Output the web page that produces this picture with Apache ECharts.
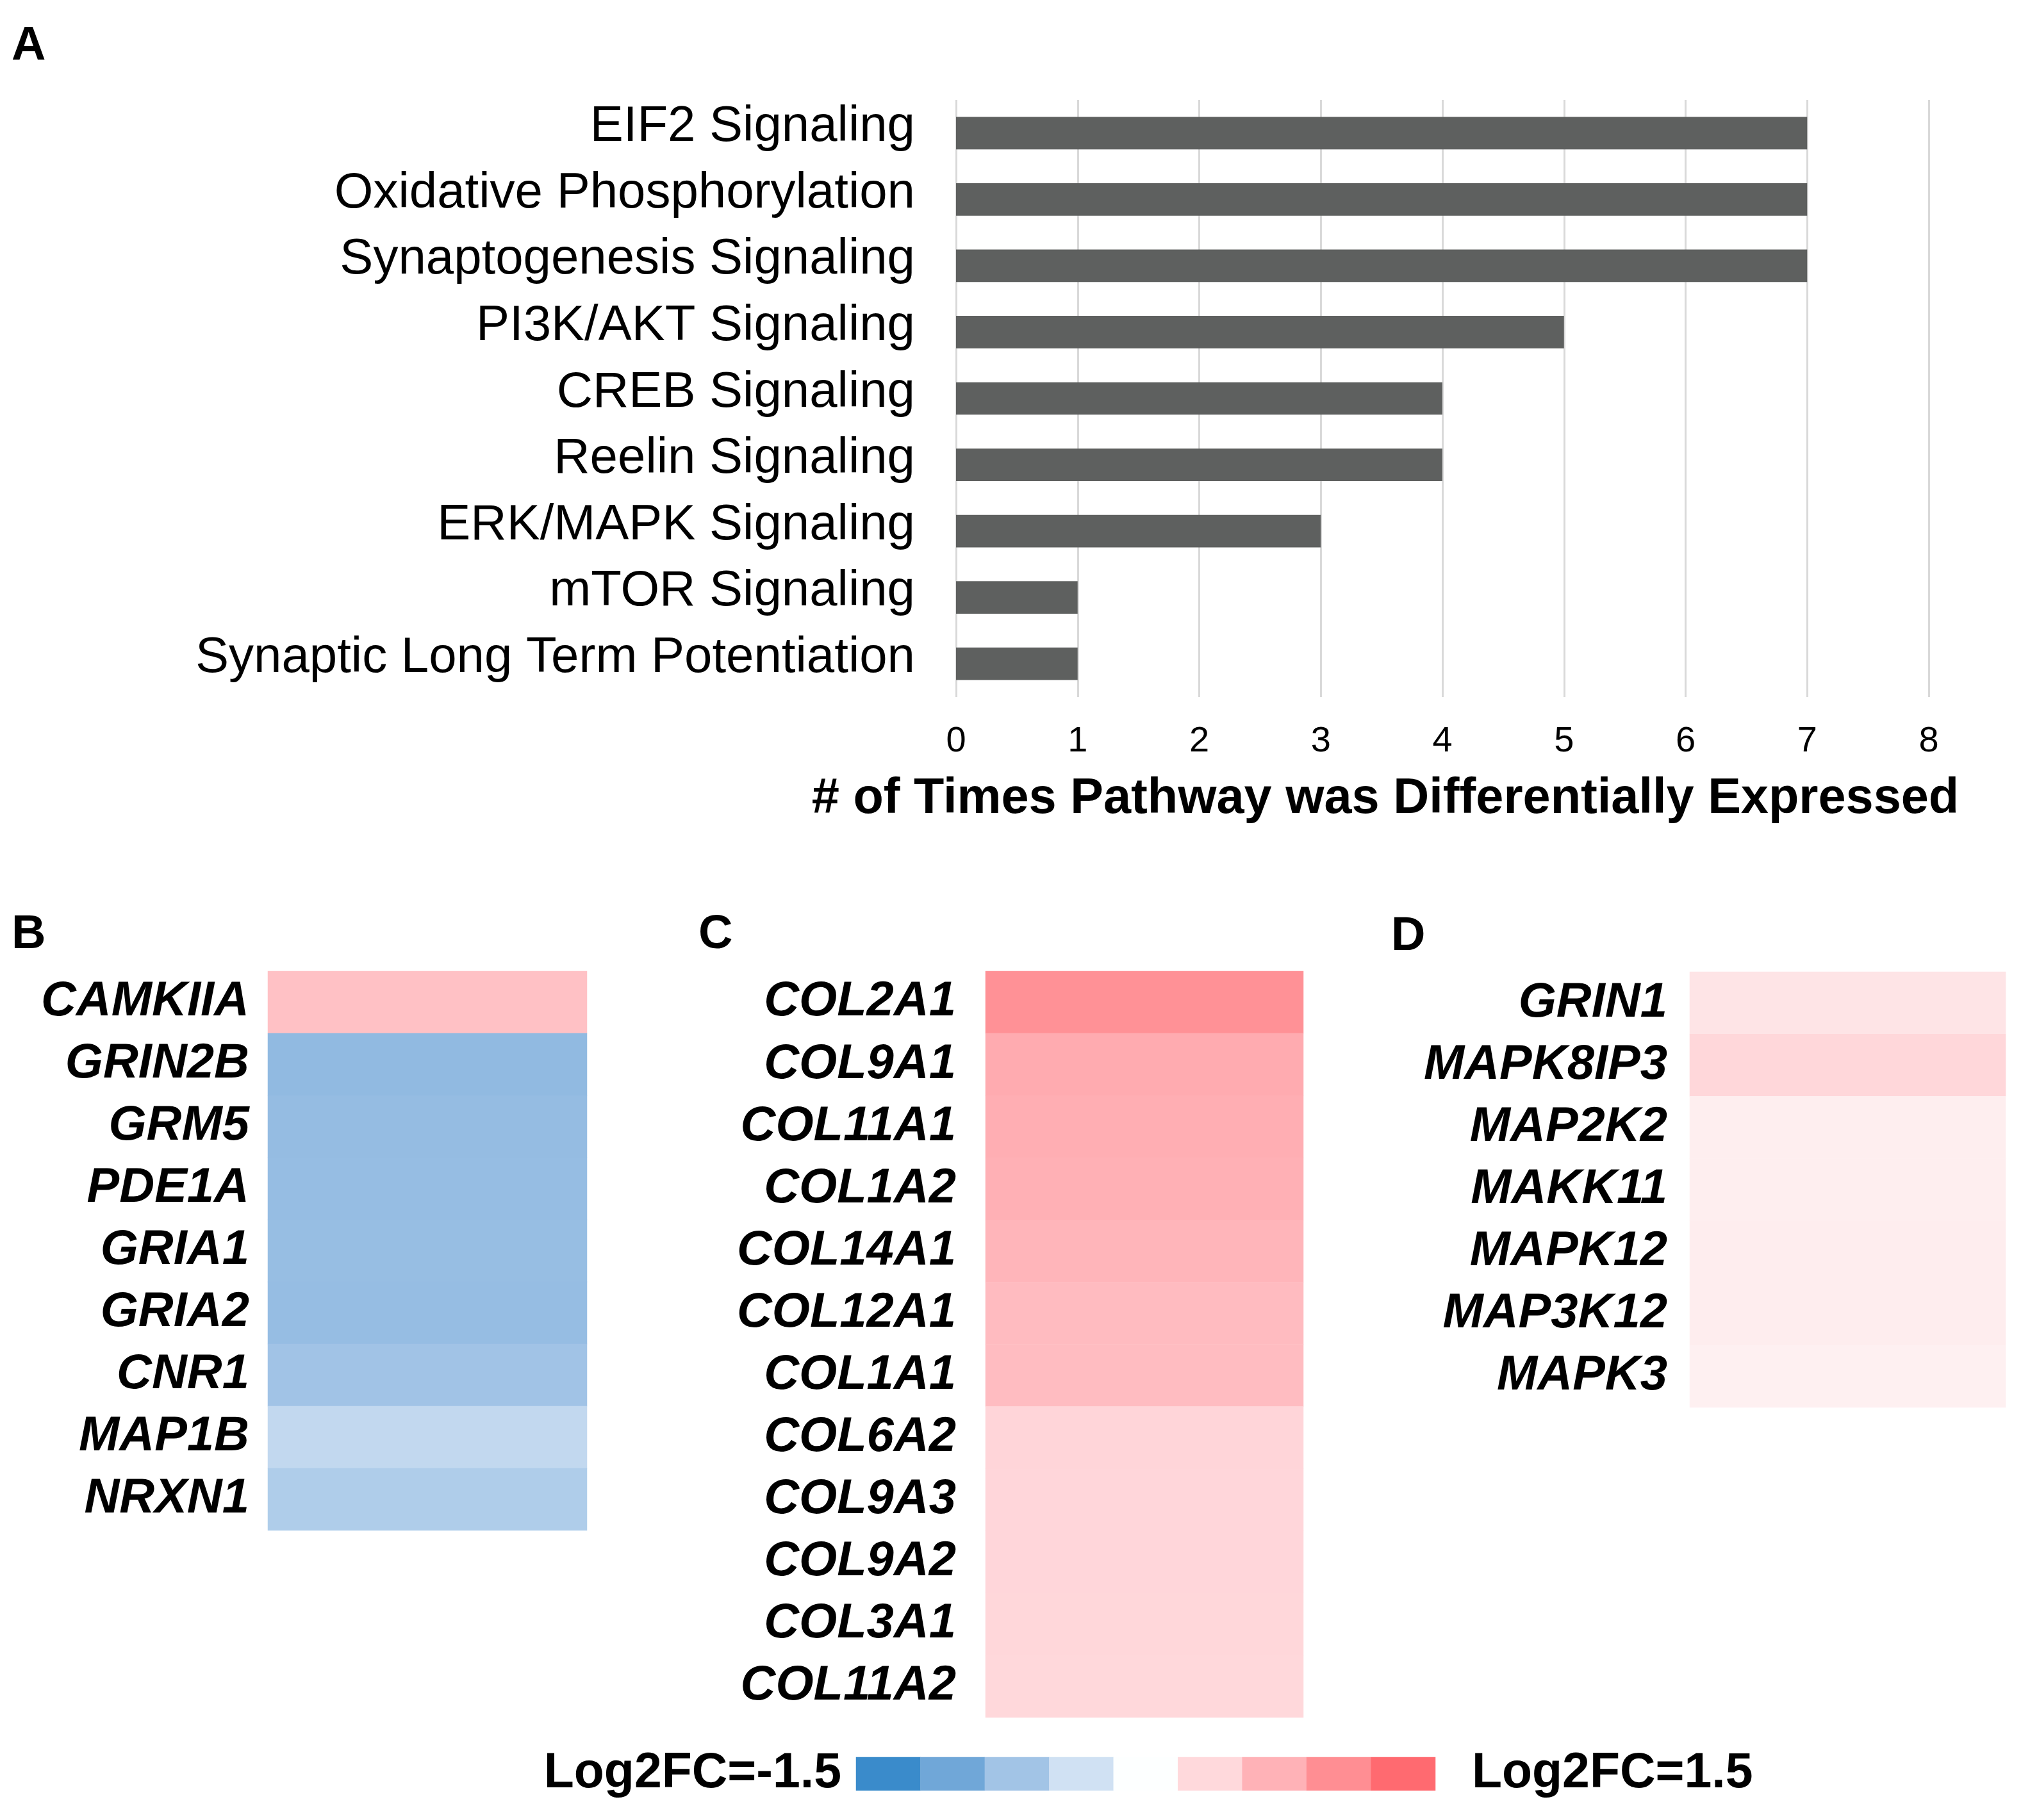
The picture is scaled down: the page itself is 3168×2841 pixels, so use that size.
<!DOCTYPE html>
<html>
<head>
<meta charset="utf-8">
<script src="https://cdn.jsdelivr.net/npm/echarts@6/dist/echarts.min.js"></script>
<style>
html,body{margin:0;padding:0;background:#fff;}
#chart{width:3168px;height:2841px;}
</style>
</head>
<body>
<div id="chart"></div>
<script>
// ---- Panel A data ----
var pathways = ['EIF2 Signaling','Oxidative Phosphorylation','Synaptogenesis Signaling','PI3K/AKT Signaling','CREB Signaling','Reelin Signaling','ERK/MAPK Signaling','mTOR Signaling','Synaptic Long Term Potentiation'];
var pathwayCounts = [7,7,7,5,4,4,3,1,1];

// ---- Panel B data ----
var genesB = ['CAMKIIA','GRIN2B','GRM5','PDE1A','GRIA1','GRIA2','CNR1','MAP1B','NRXN1'];
var log2fcB = [0.61,-0.88,-0.85,-0.84,-0.83,-0.84,-0.76,-0.49,-0.64];

// ---- Panel C data ----
var genesC = ['COL2A1','COL9A1','COL11A1','COL1A2','COL14A1','COL12A1','COL1A1','COL6A2','COL9A3','COL9A2','COL3A1','COL11A2'];
var log2fcC = [1.09,0.82,0.79,0.77,0.72,0.66,0.65,0.41,0.40,0.40,0.395,0.385];

// ---- Panel D data ----
var genesD = ['GRIN1','MAPK8IP3','MAP2K2','MAKK11','MAPK12','MAP3K12','MAPK3'];
var log2fcD = [0.27,0.395,0.17,0.17,0.18,0.18,0.15];

// ---- Colour scale legend ----
var legendSteps = [-1.5,-1.125,-0.75,-0.375,0,0.375,0.75,1.125,1.5];
var scaleColors = ['#3A8BCB','#70A7D8','#A2C4E6','#D0E1F3','#FDFFFF','#FFD9DC','#FFB2B7','#FF8E93','#FF6A70'];
var legendLabels = ['Log2FC=-1.5','Log2FC=1.5'];

var FONT = '"Liberation Sans", Arial, Helvetica, sans-serif';

function cells(vals){ return vals.map(function(v,i){ return [0,i,v]; }); }

var geneLabel = function(margin){
  return {show:true, interval:0, margin:margin, fontFamily:FONT, fontSize:76, fontWeight:'bold', fontStyle:'italic', color:'#000'};
};
var hiddenX = function(gi){ return {type:'category', gridIndex:gi, data:[''], show:false}; };
var geneY = function(gi, genes, margin){
  return {type:'category', gridIndex:gi, data:genes, inverse:true,
    axisLine:{show:false}, axisTick:{show:false}, splitLine:{show:false},
    axisLabel:geneLabel(margin)};
};

var chart = echarts.init(document.getElementById('chart'), null, {renderer:'canvas'});
chart.setOption({
  backgroundColor:'#ffffff',
  animation:false,
  grid:[
    {left:1492, top:156, width:1518, height:932},
    {left:418, top:1516, width:498, height:873},
    {left:1538, top:1516, width:496, height:1165},
    {left:2637, top:1517, width:493, height:680},
    {left:1336, top:2743, width:904, height:52}
  ],
  xAxis:[
    {type:'value', gridIndex:0, min:0, max:8, interval:1,
      axisLine:{show:false}, axisTick:{show:false},
      splitLine:{show:true, lineStyle:{color:'#D9D9D9', width:3}},
      axisLabel:{margin:42, fontFamily:FONT, fontSize:56, color:'#000'}},
    hiddenX(1), hiddenX(2), hiddenX(3),
    {type:'category', gridIndex:4, data:legendSteps.map(String), show:false}
  ],
  yAxis:[
    {type:'category', gridIndex:0, data:pathways, inverse:true,
      axisLine:{show:false}, axisTick:{show:false},
      axisLabel:{interval:0, margin:64, fontFamily:FONT, fontSize:78, color:'#000',
        verticalAlign:'bottom', lineHeight:18}},
    geneY(1, genesB, 29),
    geneY(2, genesC, 46),
    geneY(3, genesD, 35),
    {type:'category', gridIndex:4, data:[''], show:false}
  ],
  visualMap:{
    type:'continuous', show:false, min:-1.5, max:1.5, dimension:2,
    seriesIndex:[1,2,3,4], inRange:{color:scaleColors}
  },
  series:[
    {type:'bar', xAxisIndex:0, yAxisIndex:0, data:pathwayCounts, barWidth:'49%',
      itemStyle:{color:'#5E605F'}},
    {type:'heatmap', xAxisIndex:1, yAxisIndex:1, data:cells(log2fcB)},
    {type:'heatmap', xAxisIndex:2, yAxisIndex:2, data:cells(log2fcC)},
    {type:'heatmap', xAxisIndex:3, yAxisIndex:3, data:cells(log2fcD)},
    {type:'heatmap', xAxisIndex:4, yAxisIndex:4,
      data:legendSteps.map(function(v,i){ return [i,0,v]; })}
  ],
  graphic:[
    {type:'text', left:18, top:36, style:{text:'A', fontFamily:FONT, fontSize:74, fontWeight:'bold', fill:'#000'}},
    {type:'text', left:18, top:1423, style:{text:'B', fontFamily:FONT, fontSize:74, fontWeight:'bold', fill:'#000'}},
    {type:'text', left:1090, top:1423, style:{text:'C', fontFamily:FONT, fontSize:74, fontWeight:'bold', fill:'#000'}},
    {type:'text', left:2171, top:1426, style:{text:'D', fontFamily:FONT, fontSize:74, fontWeight:'bold', fill:'#000'}},
    {type:'text', x:2162, y:1248, style:{text:'# of Times Pathway was Differentially Expressed', fontFamily:FONT, fontSize:77.5, fontWeight:'bold', fill:'#000', align:'center', verticalAlign:'middle'}},
    {type:'text', x:1313, y:2769, style:{text:legendLabels[0], fontFamily:FONT, fontSize:77, fontWeight:'bold', fill:'#000', align:'right', verticalAlign:'middle'}},
    {type:'text', x:2297, y:2769, style:{text:legendLabels[1], fontFamily:FONT, fontSize:77, fontWeight:'bold', fill:'#000', align:'left', verticalAlign:'middle'}}
  ]
});
</script>
</body>
</html>
